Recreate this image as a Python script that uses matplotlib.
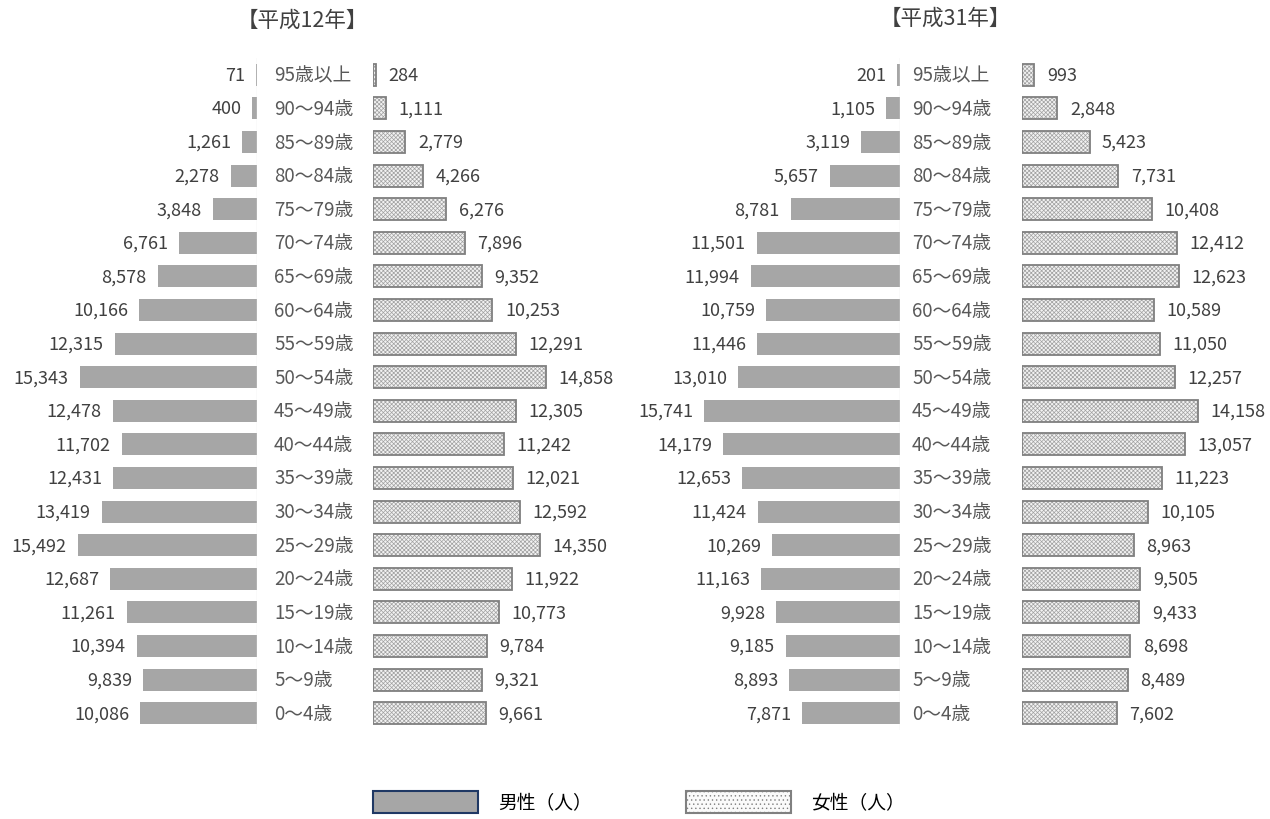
import matplotlib
matplotlib.use("Agg")
from matplotlib import pyplot as plt
from matplotlib.patches import Patch
from matplotlib.transforms import blended_transform_factory

plt.rcParams['font.family'] = ['Noto Sans CJK JP', 'DejaVu Sans']
plt.rcParams['hatch.linewidth'] = 0.5

# 年齢区分 (上から下)
ages = ["95歳以上", "90～94歳", "85～89歳", "80～84歳", "75～79歳", "70～74歳",
        "65～69歳", "60～64歳", "55～59歳", "50～54歳", "45～49歳", "40～44歳",
        "35～39歳", "30～34歳", "25～29歳", "20～24歳", "15～19歳", "10～14歳",
        "5～9歳", "0～4歳"]

# 平成12年
male_h12 = [71, 400, 1261, 2278, 3848, 6761, 8578, 10166, 12315, 15343,
            12478, 11702, 12431, 13419, 15492, 12687, 11261, 10394, 9839, 10086]
female_h12 = [284, 1111, 2779, 4266, 6276, 7896, 9352, 10253, 12291, 14858,
              12305, 11242, 12021, 12592, 14350, 11922, 10773, 9784, 9321, 9661]

# 平成31年
male_h31 = [201, 1105, 3119, 5657, 8781, 11501, 11994, 10759, 11446, 13010,
            15741, 14179, 12653, 11424, 10269, 11163, 9928, 9185, 8893, 7871]
female_h31 = [993, 2848, 5423, 7731, 10408, 12412, 12623, 10589, 11050, 12257,
              14158, 13057, 11223, 10105, 8963, 9505, 9433, 8698, 8489, 7602]

male_col = '#a6a6a6'
female_face = '#f2f2f2'
female_hatch = '#a0a0a0'
female_edge = '#7f7f7f'
txt_col = '#404040'
lab_col = '#595959'

W, H = 1270, 820
fig = plt.figure(figsize=(W/100, H/100), dpi=100)

bottom = 1 - 731/H
height = (731 - 59)/H


def panel(male, female, m_left, m_right, m_scale, f_left, f_right, f_scale, lab_x, title, title_x, title_y):
    axm = fig.add_axes([m_left/W, bottom, (m_right - m_left)/W, height])
    axf = fig.add_axes([f_left/W, bottom, (f_right - f_left)/W, height])
    y = list(range(len(ages)))[::-1]
    # 男性 (左向き)
    axm.barh(y, male, height=0.66, color=male_col, edgecolor='none')
    axm.set_xlim((m_right - m_left)/m_scale*1000, 0)
    # 女性 (網掛け + 枠)
    axf.barh(y, female, height=0.66, color=female_face, edgecolor=female_hatch,
             hatch='xxxxxxxx', linewidth=0)
    axf.barh(y, female, height=0.66, fill=False, edgecolor=female_edge, linewidth=1.3)
    axf.set_xlim(0, (f_right - f_left)/f_scale*1000)
    for ax in (axm, axf):
        ax.set_ylim(-0.5, len(ages) - 0.5)
        ax.axis('off')
    axm.axvline(0, color='#e6e6e6', lw=1)
    for yi, v in zip(y, male):
        axm.annotate(f"{v:,}", (v, yi), xytext=(-8, 0), textcoords='offset points',
                     ha='right', va='center', fontsize=13, color=txt_col)
    for yi, v in zip(y, female):
        axf.annotate(f"{v:,}", (v, yi), xytext=(9, 0), textcoords='offset points',
                     ha='left', va='center', fontsize=13, color=txt_col)
    tr = blended_transform_factory(fig.transFigure, axm.transData)
    for yi, a in zip(y, ages):
        axm.text(lab_x/W, yi, a, transform=tr, ha='left', va='center',
                 fontsize=13.5, color=lab_col)
    fig.text(title_x/W, 1 - title_y/H, title, ha='center', va='center',
             fontsize=15.5, color=txt_col)


panel(male_h12, female_h12, 0, 257, 11.56, 373, 620, 11.65, 274, "【平成12年】", 302, 21)
panel(male_h31, female_h31, 640, 900, 12.45, 1022, 1270, 12.45, 912, "【平成31年】", 945, 19)

handles = [Patch(facecolor=male_col, edgecolor='#1f3864', linewidth=1.5, label='男性（人）'),
           Patch(facecolor='#fafafa', edgecolor='#808080', linewidth=1.5, hatch='....',
                 label='女性（人）')]
fig.legend(handles=handles, loc='center', bbox_to_anchor=(0.503, 1 - 803/H), ncol=2,
           frameon=False, fontsize=13.5, handlelength=5.6, handleheight=1.4,
           handletextpad=1.1, columnspacing=5.0)

plt.savefig("out.png", dpi=100)
plt.close()
